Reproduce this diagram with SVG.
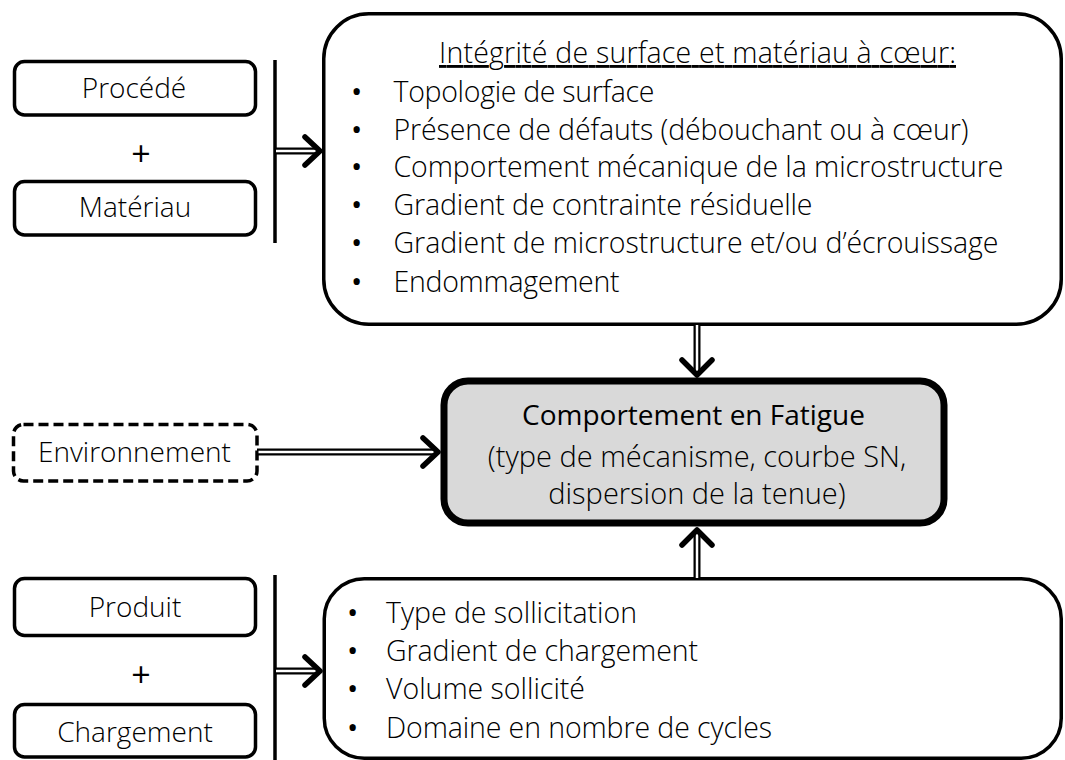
<svg xmlns="http://www.w3.org/2000/svg" width="1065" height="760" viewBox="0 0 1065 760">
<style>
.box{fill:#fff;stroke:#000;stroke-width:3.5}
.dash{fill:#fff;stroke:#000;stroke-width:3.5;stroke-dasharray:10 5}
.main{fill:#d9d9d9;stroke:#000;stroke-width:7}
.bar{stroke:#000;stroke-width:3.5}
.o{stroke:#000;stroke-width:7;fill:none}
.i{stroke:#fff;stroke-width:2.5;fill:none}
.head{stroke:#000;stroke-width:5.5;fill:none;stroke-linecap:round;stroke-linejoin:round}
text{font-family:"Open Sans","Noto Sans","DejaVu Sans",sans-serif;fill:#000}
.lt{font-weight:300;font-size:28.5px}
.bul{font-family:"Liberation Sans",Arial,sans-serif;font-size:30px}
.lbl{font-weight:300;font-size:28px;text-anchor:middle}
.plus{font-weight:400;font-size:34px;text-anchor:middle}
.ctr{text-anchor:middle}
</style>
<g id="procede"><rect class="box" x="14.5" y="61.5" width="241" height="53.5" rx="10"/><text class="lbl" x="134" y="98">Procédé</text></g>
<g id="plus1"><text class="plus" x="141" y="166">+</text></g>
<g id="materiau"><rect class="box" x="14.5" y="181.5" width="241" height="53.5" rx="10"/><text class="lbl" x="135" y="217">Matériau</text></g>
<g id="bar1"><line class="bar" x1="275" y1="60" x2="275" y2="243"/></g>
<g id="integrite">
<rect class="box" x="323.75" y="13.75" width="737.5" height="310.5" rx="45"/>
<text class="lt" x="439" y="63" textLength="517" text-decoration="underline">Intégrité de surface et matériau à cœur:</text>
<g class="bul">
<text x="351" y="102">•</text><text x="351" y="139.5">•</text><text x="351" y="177">•</text>
<text x="351" y="215">•</text><text x="351" y="253">•</text><text x="351" y="292">•</text>
</g>
<g class="lt">
<text x="393.5" y="102" textLength="261">Topologie de surface</text>
<text x="393.5" y="139.5" textLength="575">Présence de défauts (débouchant ou à cœur)</text>
<text x="393.5" y="177" textLength="610">Comportement mécanique de la microstructure</text>
<text x="393.5" y="215" textLength="419">Gradient de contrainte résiduelle</text>
<text x="393.5" y="253" textLength="605">Gradient de microstructure et/ou d’écrouissage</text>
<text x="393.5" y="292" textLength="226">Endommagement</text>
</g>
</g>
<g id="environnement"><rect class="dash" x="13.5" y="424.5" width="243.5" height="56.5" rx="10"/><text class="lbl" x="134.5" y="462">Environnement</text></g>
<g id="fatigue">
<rect class="main" x="444" y="381" width="500" height="142" rx="24"/>
<text class="ctr" x="693.5" y="425" font-size="28">Comportement en Fatigue</text>
<text class="ctr" x="697" y="467" font-size="29" font-weight="300">(type de mécanisme, courbe SN,</text>
<text class="ctr" x="697" y="504" font-size="29" font-weight="300">dispersion de la tenue)</text>
</g>
<g id="produit"><rect class="box" x="14.5" y="578.5" width="241" height="57" rx="10"/><text class="lbl" x="135" y="617">Produit</text></g>
<g id="plus2"><text class="plus" x="141" y="687">+</text></g>
<g id="chargement"><rect class="box" x="14.5" y="704.5" width="241" height="52.5" rx="10"/><text class="lbl" x="135" y="742">Chargement</text></g>
<g id="bar2"><line class="bar" x1="275" y1="575" x2="275" y2="760"/></g>
<g id="sollicitation">
<rect class="box" x="324.25" y="578.75" width="737" height="179.5" rx="40"/>
<g class="bul">
<text x="347" y="622.5">•</text><text x="347" y="661">•</text><text x="347" y="699">•</text><text x="347" y="737.5">•</text>
</g>
<g class="lt">
<text x="386" y="622.5" textLength="251">Type de sollicitation</text>
<text x="386" y="661" textLength="312">Gradient de chargement</text>
<text x="386" y="699" textLength="199">Volume sollicité</text>
<text x="386" y="737.5" textLength="386">Domaine en nombre de cycles</text>
</g>
</g>
<g id="connectors">
<line class="o" x1="276" y1="151" x2="318" y2="151"/><line class="i" x1="276" y1="151" x2="318" y2="151"/>
<path class="head" d="M305,137 L320,151 L305,165"/>
<line class="o" x1="257" y1="452" x2="436" y2="452"/><line class="i" x1="258.5" y1="452" x2="436" y2="452"/>
<path class="head" d="M423,438 L438,452 L423,466"/>
<line class="o" x1="697" y1="326" x2="697" y2="374"/><line class="i" x1="697" y1="325" x2="697" y2="374"/>
<path class="head" d="M682,360 L697,375 L712,360"/>
<line class="o" x1="697" y1="577" x2="697" y2="531"/><line class="i" x1="697" y1="578" x2="697" y2="531"/>
<path class="head" d="M682,545 L697,530 L712,545"/>
<line class="o" x1="276" y1="671" x2="318" y2="671"/><line class="i" x1="276" y1="671" x2="318" y2="671"/>
<path class="head" d="M305,657 L320,671 L305,685"/>
</g>
</svg>
